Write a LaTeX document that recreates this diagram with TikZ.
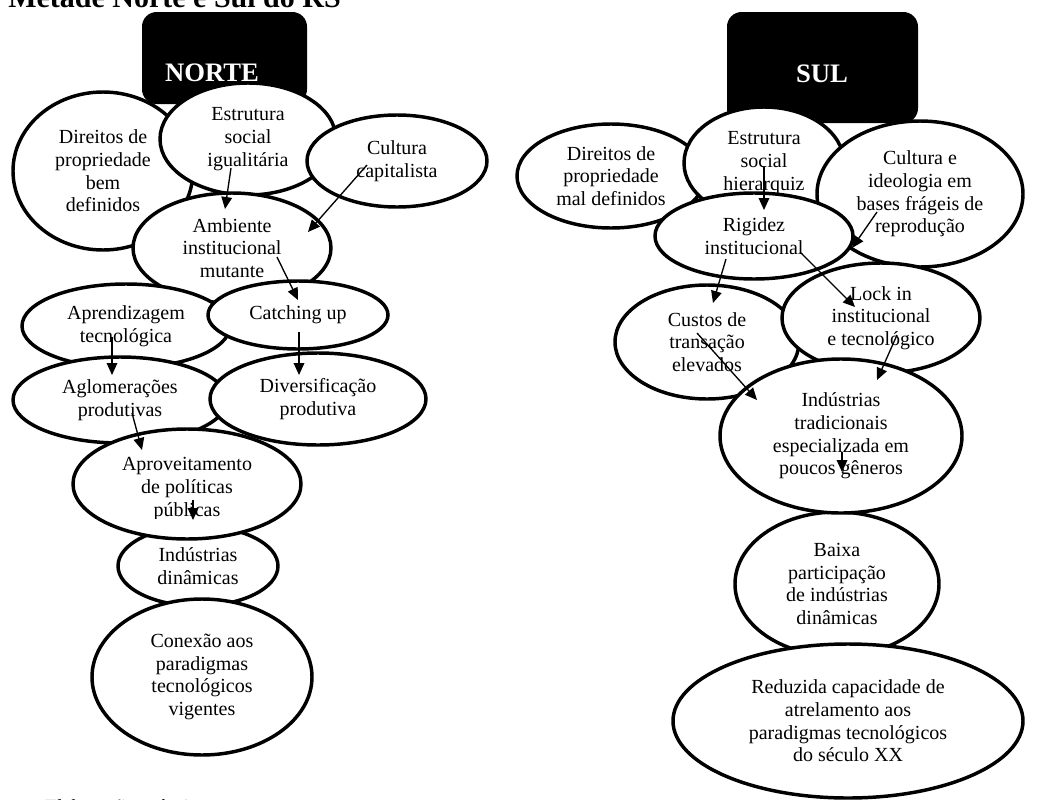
\documentclass[tikz,border=0pt]{standalone}
\usepackage{fontspec}
\setmainfont{Liberation Serif}
\usetikzlibrary{shapes.geometric,arrows.meta,calc}
\begin{document}
\begin{tikzpicture}[x=0.75pt,y=-0.75pt,
  ell/.style 2 args={draw=black, fill=white, line width=2.6pt, ellipse, inner sep=0pt,
    minimum width=#1*1.5pt, minimum height=#2*1.5pt, align=center,
    font=\fontsize{15pt}{17pt}\selectfont},
  txt/.style={align=center, inner sep=0pt, font=\fontsize{15pt}{17pt}\selectfont},
  hdr/.style 2 args={fill=black, rounded corners=11pt, minimum width=#1*0.75pt,
    minimum height=#2*0.75pt, inner sep=0pt},
  hdrtxt/.style={text=white, font=\fontsize{20pt}{24pt}\selectfont\bfseries, inner sep=0pt},
  arr/.style={line width=1pt, -{Triangle[length=9pt,width=8pt]}},
]
\useasboundingbox (0,0) rectangle (1040,800);

% ---------------- NORTE ----------------
\node[hdr={165}{92}] (boxN) at (224.5,58) {};
\node[hdrtxt, anchor=base] (tN) at (212,81) {NORTE};
\node[ell={90}{79}] (dirN) at (103,171) {Direitos de\\propriedade\\bem\\definidos};
\node[ell={88}{56}] (estN) at (248,139) {Estrutura\\social\\igualitária};
\node[ell={90}{46}] (culN) at (397,161) {Cultura\\capitalista};
\node[ell={99}{55}] (ambN) at (232,248) {Ambiente\\institucional\\mutante};
\node[ell={104}{42}] (aprN) at (126,326) {Aprendizagem\\tecnológica};
\node[ell={90}{34}] (catN) at (298,315) {Catching up};
\node[ell={107}{43}] (aglN) at (120,400) {Aglomerações\\produtivas};
\node[ell={108}{46}] (divN) at (318,399) {Diversificação\\produtiva};
\node[ell={80}{40}] (indN) at (198,566) {Indústrias\\dinâmicas};
\node[ell={114}{55}] (aprovN) at (187,484) {};
\begin{scope}
  \clip (60,420) rectangle (320,518);
  \node[txt] (aprovT) at (187,489) {Aproveitamento\\de políticas\\públicas};
\end{scope}
\node[ell={110}{78}] (conN) at (202,677) {Conexão aos\\paradigmas\\tecnológicos\\vigentes};

% ---------------- SUL ----------------
\node[hdr={191}{111}] (boxS) at (822.5,67.5) {};
\node[hdrtxt, anchor=base] (tS) at (822,82) {SUL};
\node[ell={94}{52}] (dirS) at (611,176) {Direitos de\\propriedade\\mal definidos};
\node[ell={80}{56}] (estS) at (764,163) {Estrutura\\social\\hierarquiz};
\node[ell={103}{73}] (culS) at (920,194) {Cultura e\\ideologia em\\bases frágeis de\\reprodução};
\node[ell={99}{43}] (rigS) at (754,236) {Rigidez\\institucional};
\node[ell={92}{57}] (cusS) at (707,342) {Custos de\\transação\\elevados};
\node[ell={99}{55}] (lockS) at (881,318) {Lock in\\institucional\\e tecnológico};
\node[ell={102}{72}] (baiS) at (837,584) {Baixa\\participação\\de indústrias\\dinâmicas};
\node[ell={121}{77}] (indS) at (841,436) {Indústrias\\tradicionais\\especializada em\\poucos gêneros};
\node[ell={175}{77}] (redS) at (848,721) {Reduzida capacidade de\\atrelamento aos\\paradigmas tecnológicos\\do século XX};

% ---------------- arrows ----------------
\draw[arr] ($(estN.center)+(-17,29)$) -- ($(ambN.center)+(-7,-39)$);
\draw[arr] ($(culN.center)+(-30,4)$) -- ($(ambN.center)+(76,-16)$);
\draw[arr] ($(ambN.center)+(45,9)$) -- ($(catN.center)+(0,-15)$);
\draw[arr] ($(catN.center)+(1,17)$) -- ($(divN.center)+(-19,-24)$);
\draw[arr] ($(aprN.center)+(-14,11)$) -- ($(aglN.center)+(-8,-25)$);
\draw[arr] ($(aglN.center)+(12,13)$) -- ($(aprovN.center)+(-45,-34)$);
\draw[arr] ($(aprovN.center)+(6,16)$) -- ($(indN.center)+(-5,-46)$);

\draw[arr] ($(estS.center)+(0,4)$) -- ($(rigS.center)+(10,-26)$);
\draw[arr] ($(culS.center)+(-43,18)$) -- ($(rigS.center)+(98,12)$);
\draw[arr] ($(rigS.center)+(-28,23)$) -- ($(cusS.center)+(6,-39)$);
\draw[arr] ($(rigS.center)+(46,16)$) -- ($(lockS.center)+(-26,-11)$);
\draw[arr] ($(cusS.center)+(-10,-9)$) -- ($(indS.center)+(-84,-36)$);
\draw[arr] ($(lockS.center)+(16,17)$) -- ($(indS.center)+(36,-56)$);
\draw[arr] ($(indS.center)+(1,16)$) -- ($(baiS.center)+(5,-112)$);

% ---------------- title and footer ----------------
\node[anchor=base west, inner sep=0pt, font=\fontsize{22.5pt}{26pt}\selectfont\bfseries] (title) at (8,7) {Metade Norte e Sul do RS};
\node[anchor=base west, inner sep=0pt, font=\fontsize{15pt}{17pt}\selectfont] (foot) at (45,813) {Elaboração própria};
\end{tikzpicture}
\end{document}
